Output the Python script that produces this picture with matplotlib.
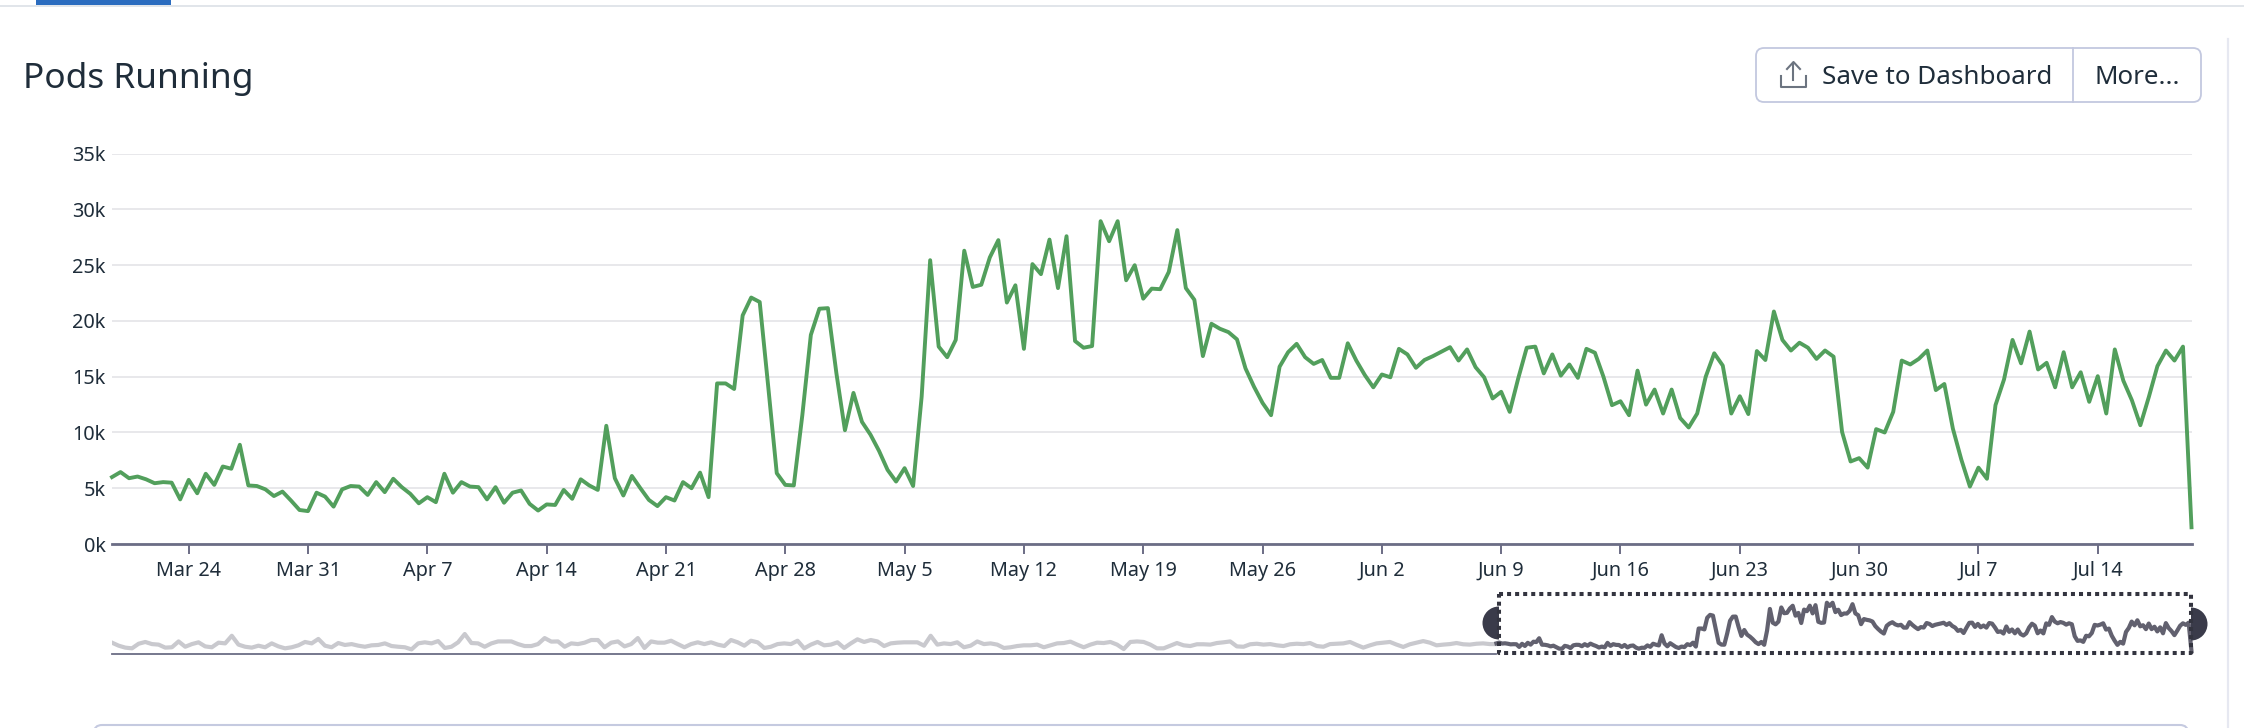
import pandas as pd
import matplotlib
matplotlib.use('Agg')
import matplotlib.pyplot as plt
import numpy as np
from matplotlib.patches import FancyBboxPatch, Rectangle, Wedge

plt.rcParams['font.family'] = ['Noto Sans', 'DejaVu Sans']

title = 'Pods Running'
y_ticks = [0, 5000, 10000, 15000, 20000, 25000, 30000, 35000]
y_tick_labels = ['0k', '5k', '10k', '15k', '20k', '25k', '30k', '35k']

# pods running, in thousands, one value every 12 hours
pods_k = [
    6.0, 6.45, 5.9, 6.05, 5.8, 5.45, 5.55, 5.5, 4.0, 5.75, 4.55, 6.3, 5.3, 6.95, 6.75, 8.9,
    5.25, 5.2, 4.9, 4.3, 4.7, 3.9, 3.05, 2.95, 4.6, 4.25, 3.35, 4.9, 5.2, 5.15, 4.4, 5.55,
    4.65, 5.85, 5.1, 4.5, 3.65, 4.2, 3.75, 6.3, 4.6, 5.55, 5.15, 5.1, 4.0, 5.1, 3.7, 4.6,
    4.8, 3.6, 3.0, 3.55, 3.5, 4.85, 4.05, 5.8, 5.25, 4.85, 10.6, 5.9, 4.35, 6.1, 5.0, 3.95,
    3.4, 4.2, 3.9, 5.55, 5.0, 6.4, 4.2, 14.4, 14.4, 13.9, 20.5, 22.1, 21.7, 14.1, 6.35, 5.3,
    5.25, 11.55, 18.75, 21.1, 21.15, 15.3, 10.2, 13.55, 10.95, 9.8, 8.35, 6.65, 5.6, 6.8, 5.2, 13.2,
    25.45, 17.7, 16.75, 18.3, 26.3, 23.05, 23.25, 25.7, 27.25, 21.65, 23.2, 17.5, 25.1, 24.2, 27.3, 22.95,
    27.6, 18.2, 17.6, 17.75, 28.95, 27.15, 28.95, 23.65, 25.0, 22.0, 22.9, 22.85, 24.4, 28.15, 22.95, 21.9,
    16.85, 19.75, 19.3, 19.0, 18.35, 15.75, 14.1, 12.65, 11.55, 15.9, 17.2, 17.95, 16.75, 16.15, 16.5, 14.9,
    14.9, 18.0, 16.45, 15.15, 14.05, 15.2, 14.95, 17.5, 17.0, 15.8, 16.5, 16.85, 17.25, 17.65, 16.45, 17.45,
    15.85, 14.95, 13.05, 13.65, 11.85, 14.85, 17.6, 17.7, 15.3, 17.0, 15.1, 16.1, 14.9, 17.5, 17.15, 15.0,
    12.45, 12.8, 11.55, 15.55, 12.5, 13.85, 11.7, 13.85, 11.3, 10.45, 11.7, 15.0, 17.1, 16.0, 11.7, 13.25,
    11.65, 17.3, 16.5, 20.85, 18.3, 17.35, 18.05, 17.6, 16.6, 17.35, 16.8, 10.05, 7.4, 7.7, 6.85, 10.3,
    10.0, 11.85, 16.45, 16.1, 16.6, 17.35, 13.8, 14.35, 10.35, 7.55, 5.15, 6.85, 5.85, 12.45, 14.75, 18.3,
    16.2, 19.05, 15.65, 16.25, 14.05, 17.2, 14.05, 15.4, 12.75, 15.05, 11.7, 17.45, 14.65, 12.9, 10.65, 13.2,
    15.95, 17.35, 16.45, 17.7, 1.5,
]

# the older part of the year in the overview strip, in thousands
overview_k = [
    6.4, 4.7, 3.6, 3.2, 5.8, 6.8, 5.6, 5.3, 3.6, 3.8, 7.1, 4.1, 5.6, 6.6, 4.3, 3.8, 6.4, 6.0,
    10.3, 5.3, 4.1, 3.6, 4.7, 3.8, 6.0, 4.3, 3.2, 3.8, 4.9, 6.8, 6.0, 8.5, 4.7, 3.8, 6.2, 5.1,
    5.6, 4.7, 4.1, 4.9, 5.1, 6.0, 4.5, 4.1, 3.8, 2.6, 6.0, 6.6, 6.0, 7.3, 3.4, 4.1, 6.6, 11.3,
    6.2, 6.0, 4.1, 6.0, 7.1, 7.1, 7.1, 5.6, 4.5, 4.5, 5.6, 9.0, 7.0, 7.1, 4.1, 6.0, 5.6,
    6.4, 7.9, 7.9, 3.8, 6.4, 7.1, 4.3, 5.6, 9.0, 3.4, 7.1, 6.4, 6.4, 7.5, 5.6, 3.8, 5.6, 6.6,
    5.6, 6.6, 5.3, 4.5, 7.9, 6.6, 4.7, 7.5, 6.6, 3.4, 4.1, 5.6, 6.0, 5.6, 7.5, 3.2, 5.3, 6.8,
    4.9, 5.3, 6.6, 3.4, 6.0, 8.3, 6.8, 7.9, 7.1, 4.5, 6.0, 6.4, 6.6, 6.6, 6.6, 4.7, 10.3, 5.3,
    6.0, 5.6, 6.6, 3.8, 4.7, 7.1, 5.6, 6.0, 5.3, 3.4, 3.8, 4.5, 4.9, 4.9, 5.3, 3.8,
    4.9, 6.0, 6.2, 7.0, 5.3, 3.8, 5.3, 6.4, 6.2, 6.8, 5.3, 2.8, 6.8, 7.1, 6.8, 5.3, 3.2, 3.2,
    4.7, 6.2, 4.9, 4.5, 5.5, 5.5, 5.3, 6.2, 6.6, 7.1, 4.3, 4.1, 5.5, 5.8, 5.3, 5.6, 4.9, 4.5,
    5.5, 5.8, 5.6, 6.2, 4.5, 4.1, 5.6, 5.8, 6.0, 6.8, 5.1, 3.6, 4.9, 6.0, 6.4, 6.8, 5.3, 4.0,
    5.5, 6.4, 7.3, 6.4, 4.9, 5.3, 5.6, 6.2, 5.5, 5.3, 5.8, 6.0, 5.6, 5.6,
]

W, H = 2244, 728


def px_axes(fig, left, top, right, bottom, **kw):
    # axes placed by pixel edges of the screenshot
    return fig.add_axes([left / W, 1 - bottom / H, (right - left) / W, (bottom - top) / H], **kw)


fig = plt.figure(figsize=(W / 100, H / 100), dpi=100, facecolor='white')

# main chart
times = pd.date_range('2019-03-19 12:00', periods=len(pods_k), freq='12h')
pods = np.array(pods_k) * 1000
tick_dates = pd.date_range('2019-03-24', periods=17, freq='7D')

ax = px_axes(fig, 112, 153.7, 2191.5, 544)
ax.plot(times, pods, color='#529f5c', lw=2.8, solid_joinstyle='round', zorder=3, clip_on=False)
ax.set_xlim(times[0], times[-1])
ax.set_ylim(0, 35000)
ax.set_yticks(y_ticks)
ax.set_yticklabels(y_tick_labels)
ax.set_xticks(tick_dates)
ax.set_xticklabels([d.strftime('%b ') + str(d.day) for d in tick_dates])
ax.grid(axis='y', color='#e8e8eb', lw=1.4)
ax.set_axisbelow(True)
for side in ['top', 'left', 'right']:
    ax.spines[side].set_visible(False)
ax.spines['bottom'].set_color('#6b6d85')
ax.spines['bottom'].set_linewidth(2.0)
ax.tick_params(axis='y', length=0, pad=4.5, labelsize=14.3, labelcolor='#1f2d3a')
ax.tick_params(axis='x', length=7, width=1.4, color='#6b6d85', pad=5, labelsize=14.3, labelcolor='#1f2d3a')

# overview strip, a whole year with the selected part in dark
ov = px_axes(fig, 112, 594, 2191.5, 654)
ov_x = np.linspace(0, 243, len(overview_k))
sel_x = 243 + np.arange(len(pods_k)) * 0.5
ov.plot(ov_x, overview_k, color='#c9c9ce', lw=3.0, solid_joinstyle='round')
ov.plot(sel_x, pods_k, color='#62616f', lw=3.0, solid_joinstyle='round', clip_on=False)
ov.set_xlim(0, 365)
ov.set_ylim(0, 33.9)
ov.axis('off')
ov.plot([0, 243], [0, 0], color='#6b6d85', lw=1.3, clip_on=False)

# everything around the chart, in screenshot pixels
ui = fig.add_axes([0, 0, 1, 1], facecolor='none')
ui.set_xlim(0, W)
ui.set_ylim(H, 0)
ui.axis('off')

ui.add_patch(Rectangle((0, 5), W, 2, color='#e1e5ea', lw=0))
ui.add_patch(Rectangle((36, 0), 135, 5, color='#2b6cbf', lw=0))
ui.plot([2228, 2228], [39, H], color='#e6e8f1', lw=1.6)

ui.text(23, 79, title, fontsize=25.4, color='#1f2d3a', ha='left', va='center')

ui.add_patch(FancyBboxPatch((1756, 48), 445, 54, boxstyle='round,pad=0,rounding_size=8',
                            fc='white', ec='#c3c8df', lw=1.3))
ui.plot([2073, 2073], [48, 102], color='#c3c8df', lw=1.3)
ui.text(1937, 78, 'Save to Dashboard', fontsize=18.7, color='#1f2d3a', ha='center', va='center')
ui.text(2137, 78, 'More...', fontsize=18.7, color='#1f2d3a', ha='center', va='center')

# upload icon
ui.plot([1781, 1781, 1806, 1806], [76, 87, 87, 76], color='#6c7480', lw=1.5)
ui.plot([1793.5, 1793.5], [63, 80], color='#6c7480', lw=1.5)
ui.plot([1787, 1793.5, 1800], [69, 62, 69], color='#6c7480', lw=1.5)

# selection handles and dotted box
ui.add_patch(Wedge((1499, 623), 16.5, 90, 270, color='#3a3b4a', lw=0))
ui.add_patch(Wedge((2191, 624), 16.5, -90, 90, color='#3a3b4a', lw=0))
ui.plot([1499, 2191, 2191, 1499, 1499], [594, 594, 653, 653, 594], color='#33343f', lw=2.9,
        linestyle=(0, (1, 1)), dash_capstyle='butt')

# top edge of the next panel
ui.add_patch(FancyBboxPatch((94, 725), 2094, 30, boxstyle='round,pad=0,rounding_size=8',
                            fc='white', ec='#c5cae0', lw=1.5))

fig.savefig('out.png', dpi=100)
